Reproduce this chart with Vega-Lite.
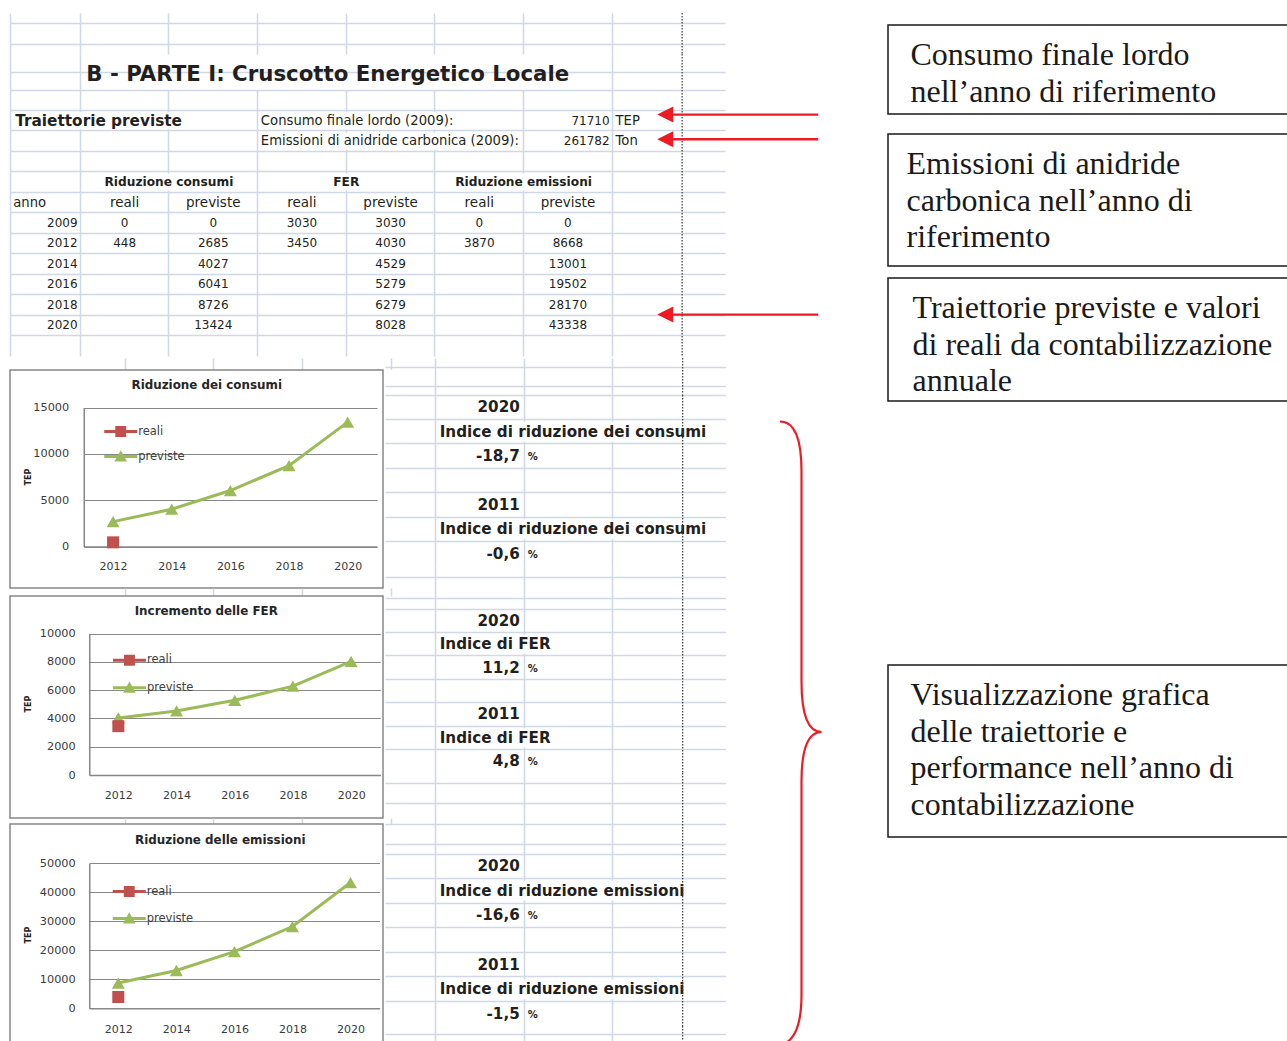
{
  "$schema": "https://vega.github.io/schema/vega-lite/v6.json",
  "padding": {"left": 9, "top": 12, "right": 0, "bottom": 0},
  "background": "white",
  "config": {"view": {"stroke": null}, "font": "DejaVu Sans"},
  "datasets": {
    "celle": [
      {"riga": 3, "colonna": "B", "testo": "B - PARTE I: Cruscotto Energetico Locale", "tipo": "titolo"},
      {"riga": 5, "colonna": "A", "testo": "Traiettorie previste", "tipo": "sezione"},
      {"riga": 5, "colonna": "D", "testo": "Consumo finale lordo (2009):", "tipo": "etichetta"},
      {"riga": 5, "colonna": "G", "testo": "71710", "tipo": "numero_dx"},
      {"riga": 5, "colonna": "H", "testo": "TEP", "tipo": "etichetta"},
      {"riga": 6, "colonna": "D", "testo": "Emissioni di anidride carbonica (2009):", "tipo": "etichetta"},
      {"riga": 6, "colonna": "G", "testo": "261782", "tipo": "numero_dx"},
      {"riga": 6, "colonna": "H", "testo": "Ton", "tipo": "etichetta"},
      {"riga": 8, "colonna": "B", "testo": "Riduzione consumi", "tipo": "gruppo"},
      {"riga": 8, "colonna": "D", "testo": "FER", "tipo": "gruppo"},
      {"riga": 8, "colonna": "F", "testo": "Riduzione emissioni", "tipo": "gruppo"},
      {"riga": 9, "colonna": "A", "testo": "anno", "tipo": "intestazione_anno"},
      {"riga": 9, "colonna": "B", "testo": "reali", "tipo": "sottotitolo"},
      {"riga": 9, "colonna": "C", "testo": "previste", "tipo": "sottotitolo"},
      {"riga": 9, "colonna": "D", "testo": "reali", "tipo": "sottotitolo"},
      {"riga": 9, "colonna": "E", "testo": "previste", "tipo": "sottotitolo"},
      {"riga": 9, "colonna": "F", "testo": "reali", "tipo": "sottotitolo"},
      {"riga": 9, "colonna": "G", "testo": "previste", "tipo": "sottotitolo"},
      {"riga": 10, "colonna": "A", "testo": "2009", "tipo": "anno"},
      {"riga": 10, "colonna": "B", "testo": "0", "tipo": "numero"},
      {"riga": 10, "colonna": "C", "testo": "0", "tipo": "numero"},
      {"riga": 10, "colonna": "D", "testo": "3030", "tipo": "numero"},
      {"riga": 10, "colonna": "E", "testo": "3030", "tipo": "numero"},
      {"riga": 10, "colonna": "F", "testo": "0", "tipo": "numero"},
      {"riga": 10, "colonna": "G", "testo": "0", "tipo": "numero"},
      {"riga": 11, "colonna": "A", "testo": "2012", "tipo": "anno"},
      {"riga": 11, "colonna": "B", "testo": "448", "tipo": "numero"},
      {"riga": 11, "colonna": "C", "testo": "2685", "tipo": "numero"},
      {"riga": 11, "colonna": "D", "testo": "3450", "tipo": "numero"},
      {"riga": 11, "colonna": "E", "testo": "4030", "tipo": "numero"},
      {"riga": 11, "colonna": "F", "testo": "3870", "tipo": "numero"},
      {"riga": 11, "colonna": "G", "testo": "8668", "tipo": "numero"},
      {"riga": 12, "colonna": "A", "testo": "2014", "tipo": "anno"},
      {"riga": 12, "colonna": "C", "testo": "4027", "tipo": "numero"},
      {"riga": 12, "colonna": "E", "testo": "4529", "tipo": "numero"},
      {"riga": 12, "colonna": "G", "testo": "13001", "tipo": "numero"},
      {"riga": 13, "colonna": "A", "testo": "2016", "tipo": "anno"},
      {"riga": 13, "colonna": "C", "testo": "6041", "tipo": "numero"},
      {"riga": 13, "colonna": "E", "testo": "5279", "tipo": "numero"},
      {"riga": 13, "colonna": "G", "testo": "19502", "tipo": "numero"},
      {"riga": 14, "colonna": "A", "testo": "2018", "tipo": "anno"},
      {"riga": 14, "colonna": "C", "testo": "8726", "tipo": "numero"},
      {"riga": 14, "colonna": "E", "testo": "6279", "tipo": "numero"},
      {"riga": 14, "colonna": "G", "testo": "28170", "tipo": "numero"},
      {"riga": 15, "colonna": "A", "testo": "2020", "tipo": "anno"},
      {"riga": 15, "colonna": "C", "testo": "13424", "tipo": "numero"},
      {"riga": 15, "colonna": "E", "testo": "8028", "tipo": "numero"},
      {"riga": 15, "colonna": "G", "testo": "43338", "tipo": "numero"}
    ],
    "coperture": [
      {"riga": 5, "da": "A", "a": "C"},
      {"riga": 5, "da": "D", "a": "F"},
      {"riga": 6, "da": "D", "a": "F"},
      {"riga": 8, "da": "B", "a": "C"},
      {"riga": 8, "da": "D", "a": "E"},
      {"riga": 8, "da": "F", "a": "G"}
    ],
    "grafici": [
      {"grafico": "consumi", "anno": 2012, "serie": "reali", "valore": 448},
      {"grafico": "consumi", "anno": 2012, "serie": "previste", "valore": 2685},
      {"grafico": "consumi", "anno": 2014, "serie": "previste", "valore": 4027},
      {"grafico": "consumi", "anno": 2016, "serie": "previste", "valore": 6041},
      {"grafico": "consumi", "anno": 2018, "serie": "previste", "valore": 8726},
      {"grafico": "consumi", "anno": 2020, "serie": "previste", "valore": 13424},
      {"grafico": "FER", "anno": 2012, "serie": "reali", "valore": 3450},
      {"grafico": "FER", "anno": 2012, "serie": "previste", "valore": 4030},
      {"grafico": "FER", "anno": 2014, "serie": "previste", "valore": 4529},
      {"grafico": "FER", "anno": 2016, "serie": "previste", "valore": 5279},
      {"grafico": "FER", "anno": 2018, "serie": "previste", "valore": 6279},
      {"grafico": "FER", "anno": 2020, "serie": "previste", "valore": 8028},
      {"grafico": "emissioni", "anno": 2012, "serie": "reali", "valore": 3870},
      {"grafico": "emissioni", "anno": 2012, "serie": "previste", "valore": 8668},
      {"grafico": "emissioni", "anno": 2014, "serie": "previste", "valore": 13001},
      {"grafico": "emissioni", "anno": 2016, "serie": "previste", "valore": 19502},
      {"grafico": "emissioni", "anno": 2018, "serie": "previste", "valore": 28170},
      {"grafico": "emissioni", "anno": 2020, "serie": "previste", "valore": 43338}
    ],
    "indici": [
      {"blocco": "consumi", "riga": 1, "colonna": "F", "testo": "2020", "tipo": "anno"},
      {"blocco": "consumi", "riga": 2, "colonna": "F", "fino_a": "H", "testo": "Indice di riduzione dei consumi", "tipo": "indice"},
      {"blocco": "consumi", "riga": 3, "colonna": "F", "testo": "-18,7", "tipo": "valore"},
      {"blocco": "consumi", "riga": 3, "colonna": "G", "testo": "%", "tipo": "unita"},
      {"blocco": "consumi", "riga": 5, "colonna": "F", "testo": "2011", "tipo": "anno"},
      {"blocco": "consumi", "riga": 6, "colonna": "F", "fino_a": "H", "testo": "Indice di riduzione dei consumi", "tipo": "indice"},
      {"blocco": "consumi", "riga": 7, "colonna": "F", "testo": "-0,6", "tipo": "valore"},
      {"blocco": "consumi", "riga": 7, "colonna": "G", "testo": "%", "tipo": "unita"},
      {"blocco": "FER", "riga": 1, "colonna": "F", "testo": "2020", "tipo": "anno"},
      {"blocco": "FER", "riga": 2, "colonna": "F", "fino_a": "G", "testo": "Indice di FER", "tipo": "indice"},
      {"blocco": "FER", "riga": 3, "colonna": "F", "testo": "11,2", "tipo": "valore"},
      {"blocco": "FER", "riga": 3, "colonna": "G", "testo": "%", "tipo": "unita"},
      {"blocco": "FER", "riga": 5, "colonna": "F", "testo": "2011", "tipo": "anno"},
      {"blocco": "FER", "riga": 6, "colonna": "F", "fino_a": "G", "testo": "Indice di FER", "tipo": "indice"},
      {"blocco": "FER", "riga": 7, "colonna": "F", "testo": "4,8", "tipo": "valore"},
      {"blocco": "FER", "riga": 7, "colonna": "G", "testo": "%", "tipo": "unita"},
      {"blocco": "emissioni", "riga": 1, "colonna": "F", "testo": "2020", "tipo": "anno"},
      {"blocco": "emissioni", "riga": 2, "colonna": "F", "fino_a": "H", "testo": "Indice di riduzione emissioni", "tipo": "indice"},
      {"blocco": "emissioni", "riga": 3, "colonna": "F", "testo": "-16,6", "tipo": "valore"},
      {"blocco": "emissioni", "riga": 3, "colonna": "G", "testo": "%", "tipo": "unita"},
      {"blocco": "emissioni", "riga": 5, "colonna": "F", "testo": "2011", "tipo": "anno"},
      {"blocco": "emissioni", "riga": 6, "colonna": "F", "fino_a": "H", "testo": "Indice di riduzione emissioni", "tipo": "indice"},
      {"blocco": "emissioni", "riga": 7, "colonna": "F", "testo": "-1,5", "tipo": "valore"},
      {"blocco": "emissioni", "riga": 7, "colonna": "G", "testo": "%", "tipo": "unita"}
    ],
    "frecce": [
      {"riga": 5, "colonna": "H", "nota": "Consumo finale lordo nell’anno di riferimento"},
      {"riga": 6, "colonna": "H", "nota": "Emissioni di anidride carbonica nell’anno di riferimento"},
      {"riga": 15, "colonna": "H", "nota": "Traiettorie previste e valori di reali da contabilizzazione annuale"}
    ],
    "interruzione": [{"colonna": "H"}],
    "parentesi": [{"oggetto": "grafici e indici"}]
  },
  "spacing": 0,
  "resolve": {"scale": {"color": "independent", "shape": "independent"}, "legend": {"color": "independent", "shape": "independent"}},
  "hconcat": [
    {
      "spacing": 0,
      "resolve": {"scale": {"color": "independent", "shape": "independent"}, "legend": {"color": "independent", "shape": "independent"}},
      "vconcat": [
        {
          "spacing": 0,
          "bounds": "flush",
          "vconcat": [
            {
              "width": 876, "height": 41,
              "layer": [
                {
                  "data": {"name": "celle"},
                  "transform": [{"filter": "false"}],
                  "mark": {"type": "text"},
                  "encoding": {
                    "x": {"field": "colonna", "type": "nominal", "title": null, "scale": {"domain": ["A","B","C","D","E","F","G","H"], "range": [-18.42, 690.94], "paddingInner": 0, "paddingOuter": 0}, "axis": {"orient": "top", "values": ["B","C","D","E","F","G","H"], "bandPosition": 0, "grid": true, "gridColor": "#D0D7E5", "gridWidth": 1.5, "labels": false, "ticks": false, "domain": false, "title": null}},
                    "y": {"field": "riga", "type": "ordinal", "title": null, "scale": {"domain": [1, 2], "paddingInner": 0, "paddingOuter": 0}, "axis": {"orient": "left", "bandPosition": 0, "labels": false, "ticks": true, "tickSize": -715, "tickColor": "#D0D7E5", "tickWidth": 1.5, "domain": true, "domainColor": "#D0D7E5", "domainWidth": 1.5, "grid": false, "title": null}},
                    "text": {"field": "testo"}
                  }
                },
                {"data": {"name": "interruzione"}, "mark": {"type": "rule", "color": "#3A3A3A", "strokeWidth": 1.2, "strokeDash": [1.5, 1.5]}, "encoding": {"x": {"field": "colonna", "type": "nominal", "bandPosition": 0.788}}}
              ]
            },
            {
              "width": 876, "height": 36,
              "layer": [
                {
                  "data": {"name": "celle"},
                  "transform": [{"filter": "datum.tipo === 'titolo'"}],
                  "mark": {"type": "text", "align": "left", "baseline": "middle", "fontSize": 21.3, "fontWeight": "bold", "color": "#231F20", "dy": 3},
                  "encoding": {
                    "x": {"field": "colonna", "type": "nominal", "title": null, "bandPosition": 0.068, "scale": {"domain": ["A","B","C","D","E","F","G","H"], "range": [-18.42, 690.94], "paddingInner": 0, "paddingOuter": 0}, "axis": {"orient": "top", "values": ["B","H"], "bandPosition": 0, "grid": true, "gridColor": "#D0D7E5", "gridWidth": 1.5, "labels": false, "ticks": false, "domain": false, "title": null}},
                    "y": {"field": "riga", "type": "ordinal", "title": null, "scale": {"domain": [3], "paddingInner": 0, "paddingOuter": 0}, "axis": {"orient": "left", "bandPosition": 0, "labels": false, "ticks": true, "tickSize": -715, "tickColor": "#D0D7E5", "tickWidth": 1.5, "domain": true, "domainColor": "#D0D7E5", "domainWidth": 1.5, "grid": false, "title": null}},
                    "text": {"field": "testo"}
                  }
                },
                {"data": {"name": "interruzione"}, "mark": {"type": "rule", "color": "#3A3A3A", "strokeWidth": 1.2, "strokeDash": [1.5, 1.5]}, "encoding": {"x": {"field": "colonna", "type": "nominal", "bandPosition": 0.788}}}
              ]
            },
            {
              "width": 876, "height": 266,
              "layer": [
                {
                  "data": {"name": "coperture"},
                  "mark": {"type": "rule", "color": "white", "strokeWidth": 17},
                  "encoding": {
                    "x": {"field": "da", "type": "nominal", "title": null, "bandPosition": 0.85, "scale": {"domain": ["A","B","C","D","E","F","G","H"], "range": [-18.42, 690.94], "paddingInner": 0, "paddingOuter": 0}, "axis": {"orient": "top", "values": ["B","C","D","E","F","G","H"], "bandPosition": 0, "grid": true, "gridColor": "#D0D7E5", "gridWidth": 1.5, "labels": false, "ticks": false, "domain": false, "title": null}},
                    "x2": {"field": "a", "bandPosition": 0.15},
                    "y": {"field": "riga", "type": "ordinal", "title": null, "scale": {"domain": [4,5,6,7,8,9,10,11,12,13,14,15,16], "paddingInner": 0, "paddingOuter": 0}, "axis": {"orient": "left", "bandPosition": 0, "labels": false, "ticks": true, "tickSize": -715, "tickColor": "#D0D7E5", "tickWidth": 1.5, "domain": true, "domainColor": "#D0D7E5", "domainWidth": 1.5, "grid": false, "title": null}}
                  }
                },
                {
                  "data": {"name": "celle"},
                  "transform": [{"filter": "datum.tipo === 'etichetta'"}],
                  "mark": {"type": "text", "align": "left", "baseline": "middle", "fontSize": 13.2, "color": "#231F20"},
                  "encoding": {"x": {"field": "colonna", "type": "nominal", "bandPosition": 0.037}, "y": {"field": "riga", "type": "ordinal"}, "text": {"field": "testo"}}
                },
                {
                  "data": {"name": "celle"},
                  "transform": [{"filter": "datum.tipo === 'sezione'"}],
                  "mark": {"type": "text", "align": "left", "baseline": "middle", "fontSize": 15.3, "fontWeight": "bold", "color": "#231F20"},
                  "encoding": {"x": {"field": "colonna", "type": "nominal", "bandPosition": 0.267}, "y": {"field": "riga", "type": "ordinal"}, "text": {"field": "testo"}}
                },
                {
                  "data": {"name": "celle"},
                  "transform": [{"filter": "datum.tipo === 'intestazione_anno'"}],
                  "mark": {"type": "text", "align": "left", "baseline": "middle", "fontSize": 13.2, "color": "#231F20"},
                  "encoding": {"x": {"field": "colonna", "type": "nominal", "bandPosition": 0.244}, "y": {"field": "riga", "type": "ordinal"}, "text": {"field": "testo"}}
                },
                {
                  "data": {"name": "celle"},
                  "transform": [{"filter": "datum.tipo === 'anno' || datum.tipo === 'numero_dx'"}],
                  "mark": {"type": "text", "align": "right", "baseline": "middle", "fontSize": 12, "color": "#231F20"},
                  "encoding": {"x": {"field": "colonna", "type": "nominal", "bandPosition": 0.97}, "y": {"field": "riga", "type": "ordinal"}, "text": {"field": "testo"}}
                },
                {
                  "data": {"name": "celle"},
                  "transform": [{"filter": "datum.tipo === 'gruppo'"}],
                  "mark": {"type": "text", "align": "center", "baseline": "middle", "fontSize": 12.2, "fontWeight": "bold", "color": "#231F20"},
                  "encoding": {"x": {"field": "colonna", "type": "nominal", "bandPosition": 1}, "y": {"field": "riga", "type": "ordinal"}, "text": {"field": "testo"}}
                },
                {
                  "data": {"name": "celle"},
                  "transform": [{"filter": "datum.tipo === 'sottotitolo'"}],
                  "mark": {"type": "text", "align": "center", "baseline": "middle", "fontSize": 13.5, "color": "#231F20"},
                  "encoding": {"x": {"field": "colonna", "type": "nominal", "bandPosition": 0.5}, "y": {"field": "riga", "type": "ordinal"}, "text": {"field": "testo"}}
                },
                {
                  "data": {"name": "celle"},
                  "transform": [{"filter": "datum.tipo === 'numero'"}],
                  "mark": {"type": "text", "align": "center", "baseline": "middle", "fontSize": 12, "color": "#231F20"},
                  "encoding": {"x": {"field": "colonna", "type": "nominal", "bandPosition": 0.5}, "y": {"field": "riga", "type": "ordinal"}, "text": {"field": "testo"}}
                },
                {"data": {"name": "interruzione"}, "mark": {"type": "rule", "color": "#3A3A3A", "strokeWidth": 1.2, "strokeDash": [1.5, 1.5]}, "encoding": {"x": {"field": "colonna", "type": "nominal", "bandPosition": 0.788}}},
                {
                  "data": {"name": "frecce"},
                  "transform": [{"filter": "datum.riga === 5"}],
                  "mark": {"type": "point", "shape": "M0.006,-0.061L0.166,-0.141L0.166,-0.073L1.616,-0.073L1.616,-0.049L0.166,-0.049L0.166,0.019Z", "size": 40000, "filled": true, "color": "#ED1C24", "opacity": 1, "strokeWidth": 0},
                  "encoding": {"x": {"field": "colonna", "type": "nominal", "bandPosition": 0.5}, "y": {"field": "riga", "type": "ordinal"}}
                },
                {
                  "data": {"name": "frecce"},
                  "transform": [{"filter": "datum.riga === 6"}],
                  "mark": {"type": "point", "shape": "M0.006,-0.019L0.166,-0.099L0.166,-0.031L1.616,-0.031L1.616,-0.007L0.166,-0.007L0.166,0.061Z", "size": 40000, "filled": true, "color": "#ED1C24", "opacity": 1, "strokeWidth": 0},
                  "encoding": {"x": {"field": "colonna", "type": "nominal", "bandPosition": 0.5}, "y": {"field": "riga", "type": "ordinal"}}
                },
                {
                  "data": {"name": "frecce"},
                  "transform": [{"filter": "datum.riga === 15"}],
                  "mark": {"type": "point", "shape": "M0.006,-0.107L0.166,-0.187L0.166,-0.119L1.616,-0.119L1.616,-0.095L0.166,-0.095L0.166,-0.027Z", "size": 40000, "filled": true, "color": "#ED1C24", "opacity": 1, "strokeWidth": 0},
                  "encoding": {"x": {"field": "colonna", "type": "nominal", "bandPosition": 0.5}, "y": {"field": "riga", "type": "ordinal"}}
                }
              ]
            }
          ]
        },
        {
          "spacing": 0,
          "resolve": {"scale": {"color": "independent", "shape": "independent"}, "legend": {"color": "independent", "shape": "independent"}},
          "hconcat": [
            {
              "spacing": 0,
              "bounds": "flush",
              "resolve": {"scale": {"color": "independent", "shape": "independent"}, "legend": {"color": "independent", "shape": "independent"}},
              "vconcat": [
                {
                  "width": 373, "height": 11.25,
                  "layer": [{"data": {"name": "celle"}, "transform": [{"filter": "false"}], "mark": {"type": "text"}, "encoding": {"x": {"field": "colonna", "type": "nominal", "title": null, "scale": {"domain": ["B","C","D","E"], "range": [70.25, 424.93], "paddingInner": 0, "paddingOuter": 0}, "axis": {"orient": "top", "values": ["B","C","D","E"], "bandPosition": 0, "grid": true, "gridColor": "#D0D7E5", "gridWidth": 1.5, "labels": false, "ticks": false, "domain": false, "title": null}}, "text": {"field": "testo"}}}]
                },
                {
                  "width": 373, "height": 218,
                  "view": {"fill": "white", "stroke": "#878787", "strokeWidth": 1.5},
                  "title": {"text": "Riduzione dei consumi", "anchor": "middle", "frame": "group", "offset": -21.8, "dx": 10.25, "fontSize": 11.9, "fontWeight": "bold", "color": "#262626"},
                  "data": {"name": "grafici"},
                  "transform": [{"filter": "datum.grafico === 'consumi'"}],
                  "layer": [
                    {
                      "transform": [{"filter": "datum.serie === 'previste'"}],
                      "mark": {"type": "line", "color": "#9BBB59", "strokeWidth": 3},
                      "encoding": {
                        "x": {"field": "anno", "type": "ordinal", "title": null, "scale": {"domain": [2012, 2014, 2016, 2018, 2020], "range": [73.75, 367], "paddingInner": 0, "paddingOuter": 0}, "axis": {"orient": "bottom", "offset": -41.5, "domain": true, "domainColor": "#878787", "domainWidth": 1.5, "ticks": false, "grid": false, "labelPadding": 14, "labelAngle": 0, "labelFontSize": 11, "labelColor": "#3B3B3B", "title": null}},
                        "y": {"field": "valore", "type": "quantitative", "title": "TEP", "scale": {"domain": [0, 15000], "range": [176.5, 37.5], "nice": false}, "axis": {"orient": "left", "offset": -73.75, "values": [0, 5000, 10000, 15000], "format": "d", "grid": true, "gridColor": "#878787", "gridWidth": 1.2, "domain": true, "domainColor": "#878787", "domainWidth": 1.5, "ticks": false, "labelPadding": 15, "labelFontSize": 11.3, "labelColor": "#3B3B3B", "titleFontSize": 8, "titleFontWeight": "bold", "titleColor": "#222222", "titleAngle": -90, "titleX": -55, "titleY": 106.5, "titleAlign": "center", "titleBaseline": "middle"}}
                      }
                    },
                    {
                      "transform": [{"filter": "datum.serie === 'previste'"}],
                      "mark": {"type": "point", "shape": "triangle-up", "filled": true, "color": "#9BBB59", "size": 169, "opacity": 1},
                      "encoding": {"x": {"field": "anno", "type": "ordinal"}, "y": {"field": "valore", "type": "quantitative"}}
                    },
                    {
                      "transform": [{"filter": "datum.serie === 'reali'"}],
                      "mark": {"type": "point", "shape": "square", "filled": true, "color": "#C0504D", "size": 144, "opacity": 1},
                      "encoding": {"x": {"field": "anno", "type": "ordinal"}, "y": {"field": "valore", "type": "quantitative"}}
                    },
                    {
                      "transform": [{"filter": "false"}],
                      "mark": {"type": "point", "filled": true, "opacity": 1},
                      "encoding": {
                        "color": {"field": "serie", "type": "nominal", "scale": {"domain": ["reali", "previste"], "range": ["#C0504D", "#9BBB59"]}, "legend": {"orient": "none", "legendX": 94.25, "legendY": 45, "title": null, "direction": "vertical", "symbolSize": 1089, "labelFontSize": 11.5, "labelColor": "#404040", "labelOffset": 1, "rowPadding": 3, "padding": 0, "symbolStrokeWidth": 0}},
                        "shape": {"field": "serie", "type": "nominal", "scale": {"domain": ["reali", "previste"], "range": ["M-1,-0.09H1V0.09H-1ZM-0.33,-0.33H0.33V0.33H-0.33Z", "M-1,-0.09H1V0.09H-1ZM0,-0.38L0.38,0.3H-0.38Z"]}, "legend": {"orient": "none", "legendX": 94.25, "legendY": 45, "title": null, "direction": "vertical", "symbolSize": 1089, "labelFontSize": 11.5, "labelColor": "#404040", "labelOffset": 1, "rowPadding": 3, "padding": 0, "symbolStrokeWidth": 0}}
                      }
                    }
                  ]
                },
                {
                  "width": 373, "height": 8,
                  "layer": [{"data": {"name": "celle"}, "transform": [{"filter": "false"}], "mark": {"type": "text"}, "encoding": {"x": {"field": "colonna", "type": "nominal", "title": null, "scale": {"domain": ["B","C","D","E"], "range": [70.25, 424.93], "paddingInner": 0, "paddingOuter": 0}, "axis": {"orient": "top", "values": ["B","C","D","E"], "bandPosition": 0, "grid": true, "gridColor": "#D0D7E5", "gridWidth": 1.5, "labels": false, "ticks": false, "domain": false, "title": null}}, "text": {"field": "testo"}}}]
                },
                {
                  "width": 373, "height": 222,
                  "view": {"fill": "white", "stroke": "#878787", "strokeWidth": 1.5},
                  "title": {"text": "Incremento delle FER", "anchor": "middle", "frame": "group", "offset": -21.8, "dx": 9.75, "fontSize": 11.9, "fontWeight": "bold", "color": "#262626"},
                  "data": {"name": "grafici"},
                  "transform": [{"filter": "datum.grafico === 'FER'"}],
                  "layer": [
                    {
                      "transform": [{"filter": "datum.serie === 'previste'"}],
                      "mark": {"type": "line", "color": "#9BBB59", "strokeWidth": 3},
                      "encoding": {
                        "x": {"field": "anno", "type": "ordinal", "title": null, "scale": {"domain": [2012, 2014, 2016, 2018, 2020], "range": [79.25, 370.25], "paddingInner": 0, "paddingOuter": 0}, "axis": {"orient": "bottom", "offset": -43, "domain": true, "domainColor": "#878787", "domainWidth": 1.5, "ticks": false, "grid": false, "labelPadding": 14.5, "labelAngle": 0, "labelFontSize": 11, "labelColor": "#3B3B3B", "title": null}},
                        "y": {"field": "valore", "type": "quantitative", "title": "TEP", "scale": {"domain": [0, 10000], "range": [179, 37.5], "nice": false}, "axis": {"orient": "left", "offset": -79.25, "values": [0, 2000, 4000, 6000, 8000, 10000], "format": "d", "grid": true, "gridColor": "#878787", "gridWidth": 1.2, "domain": true, "domainColor": "#878787", "domainWidth": 1.5, "ticks": false, "labelPadding": 14, "labelFontSize": 11.3, "labelColor": "#3B3B3B", "titleFontSize": 8, "titleFontWeight": "bold", "titleColor": "#222222", "titleAngle": -90, "titleX": -60.75, "titleY": 107.5, "titleAlign": "center", "titleBaseline": "middle"}}
                      }
                    },
                    {
                      "transform": [{"filter": "datum.serie === 'previste'"}],
                      "mark": {"type": "point", "shape": "triangle-up", "filled": true, "color": "#9BBB59", "size": 169, "opacity": 1},
                      "encoding": {"x": {"field": "anno", "type": "ordinal"}, "y": {"field": "valore", "type": "quantitative"}}
                    },
                    {
                      "transform": [{"filter": "datum.serie === 'reali'"}],
                      "mark": {"type": "point", "shape": "square", "filled": true, "color": "#C0504D", "size": 144, "opacity": 1},
                      "encoding": {"x": {"field": "anno", "type": "ordinal"}, "y": {"field": "valore", "type": "quantitative"}}
                    },
                    {
                      "transform": [{"filter": "false"}],
                      "mark": {"type": "point", "filled": true, "opacity": 1},
                      "encoding": {
                        "color": {"field": "serie", "type": "nominal", "scale": {"domain": ["reali", "previste"], "range": ["#C0504D", "#9BBB59"]}, "legend": {"orient": "none", "legendX": 102.95, "legendY": 47.7, "title": null, "direction": "vertical", "symbolSize": 1089, "labelFontSize": 11.5, "labelColor": "#404040", "labelOffset": 1, "rowPadding": 5.5, "padding": 0, "symbolStrokeWidth": 0}},
                        "shape": {"field": "serie", "type": "nominal", "scale": {"domain": ["reali", "previste"], "range": ["M-1,-0.09H1V0.09H-1ZM-0.33,-0.33H0.33V0.33H-0.33Z", "M-1,-0.09H1V0.09H-1ZM0,-0.38L0.38,0.3H-0.38Z"]}, "legend": {"orient": "none", "legendX": 102.95, "legendY": 47.7, "title": null, "direction": "vertical", "symbolSize": 1089, "labelFontSize": 11.5, "labelColor": "#404040", "labelOffset": 1, "rowPadding": 5.5, "padding": 0, "symbolStrokeWidth": 0}}
                      }
                    }
                  ]
                },
                {
                  "width": 373, "height": 6,
                  "layer": [{"data": {"name": "celle"}, "transform": [{"filter": "false"}], "mark": {"type": "text"}, "encoding": {"x": {"field": "colonna", "type": "nominal", "title": null, "scale": {"domain": ["B","C","D","E"], "range": [70.25, 424.93], "paddingInner": 0, "paddingOuter": 0}, "axis": {"orient": "top", "values": ["B","C","D","E"], "bandPosition": 0, "grid": true, "gridColor": "#D0D7E5", "gridWidth": 1.5, "labels": false, "ticks": false, "domain": false, "title": null}}, "text": {"field": "testo"}}}]
                },
                {
                  "width": 373, "height": 218.5,
                  "view": {"fill": "white", "stroke": "#878787", "strokeWidth": 1.5},
                  "title": {"text": "Riduzione delle emissioni", "anchor": "middle", "frame": "group", "offset": -22.8, "dx": 23.75, "fontSize": 11.9, "fontWeight": "bold", "color": "#262626"},
                  "data": {"name": "grafici"},
                  "transform": [{"filter": "datum.grafico === 'emissioni'"}],
                  "layer": [
                    {
                      "transform": [{"filter": "datum.serie === 'previste'"}],
                      "mark": {"type": "line", "color": "#9BBB59", "strokeWidth": 3},
                      "encoding": {
                        "x": {"field": "anno", "type": "ordinal", "title": null, "scale": {"domain": [2012, 2014, 2016, 2018, 2020], "range": [79.25, 369.55], "paddingInner": 0, "paddingOuter": 0}, "axis": {"orient": "bottom", "offset": -34.3, "domain": true, "domainColor": "#878787", "domainWidth": 1.5, "ticks": false, "grid": false, "labelPadding": 15.5, "labelAngle": 0, "labelFontSize": 11, "labelColor": "#3B3B3B", "title": null}},
                        "y": {"field": "valore", "type": "quantitative", "title": "TEP", "scale": {"domain": [0, 50000], "range": [184.2, 39.2], "nice": false}, "axis": {"orient": "left", "offset": -79.25, "values": [0, 10000, 20000, 30000, 40000, 50000], "format": "d", "grid": true, "gridColor": "#878787", "gridWidth": 1.2, "domain": true, "domainColor": "#878787", "domainWidth": 1.5, "ticks": false, "labelPadding": 14, "labelFontSize": 11.3, "labelColor": "#3B3B3B", "titleFontSize": 8, "titleFontWeight": "bold", "titleColor": "#222222", "titleAngle": -90, "titleX": -60.75, "titleY": 110.5, "titleAlign": "center", "titleBaseline": "middle"}}
                      }
                    },
                    {
                      "transform": [{"filter": "datum.serie === 'previste'"}],
                      "mark": {"type": "point", "shape": "triangle-up", "filled": true, "color": "#9BBB59", "size": 169, "opacity": 1},
                      "encoding": {"x": {"field": "anno", "type": "ordinal"}, "y": {"field": "valore", "type": "quantitative"}}
                    },
                    {
                      "transform": [{"filter": "datum.serie === 'reali'"}],
                      "mark": {"type": "point", "shape": "square", "filled": true, "color": "#C0504D", "size": 144, "opacity": 1},
                      "encoding": {"x": {"field": "anno", "type": "ordinal"}, "y": {"field": "valore", "type": "quantitative"}}
                    },
                    {
                      "transform": [{"filter": "false"}],
                      "mark": {"type": "point", "filled": true, "opacity": 1},
                      "encoding": {
                        "color": {"field": "serie", "type": "nominal", "scale": {"domain": ["reali", "previste"], "range": ["#C0504D", "#9BBB59"]}, "legend": {"orient": "none", "legendX": 102.75, "legendY": 51, "title": null, "direction": "vertical", "symbolSize": 1089, "labelFontSize": 11.5, "labelColor": "#404040", "labelOffset": 1, "rowPadding": 5, "padding": 0, "symbolStrokeWidth": 0}},
                        "shape": {"field": "serie", "type": "nominal", "scale": {"domain": ["reali", "previste"], "range": ["M-1,-0.09H1V0.09H-1ZM-0.33,-0.33H0.33V0.33H-0.33Z", "M-1,-0.09H1V0.09H-1ZM0,-0.38L0.38,0.3H-0.38Z"]}, "legend": {"orient": "none", "legendX": 102.75, "legendY": 51, "title": null, "direction": "vertical", "symbolSize": 1089, "labelFontSize": 11.5, "labelColor": "#404040", "labelOffset": 1, "rowPadding": 5, "padding": 0, "symbolStrokeWidth": 0}}
                      }
                    }
                  ]
                }
              ]
            },
            {
              "spacing": 0,
              "bounds": "flush",
              "vconcat": [
                {
                  "width": 340.5, "height": 36.75,
                  "layer": [
                    {"data": {"name": "indici"}, "transform": [{"filter": "false"}], "mark": {"type": "text"}, "encoding": {
                      "x": {"field": "colonna", "type": "nominal", "title": null, "scale": {"domain": ["F","G","H"], "range": [50.45, 316.46], "paddingInner": 0, "paddingOuter": 0}, "axis": {"orient": "top", "values": ["F","G","H"], "bandPosition": 0, "grid": true, "gridColor": "#D0D7E5", "gridWidth": 1.5, "labels": false, "ticks": false, "domain": false, "title": null}},
                      "y": {"field": "riga", "type": "ordinal", "title": null, "scale": {"domain": [1, 2], "paddingInner": 0, "paddingOuter": 0}, "axis": {"orient": "left", "bandPosition": 0, "labels": false, "ticks": true, "tickSize": -340.5, "tickColor": "#D0D7E5", "tickWidth": 1.5, "domain": false, "grid": false, "title": null}},
                      "text": {"field": "testo"}}},
                    {"data": {"name": "interruzione"}, "mark": {"type": "rule", "color": "#3A3A3A", "strokeWidth": 1.2, "strokeDash": [1.5, 1.5]}, "encoding": {"x": {"field": "colonna", "type": "nominal", "bandPosition": 0.788}}}
                  ]
                },
                {
                  "width": 340.5, "height": 171,
                  "layer": [
                    {"data": {"name": "indici"}, "transform": [{"filter": "datum.blocco === 'consumi' && (datum.tipo === 'anno' || datum.tipo === 'valore')"}], "mark": {"type": "text", "align": "right", "baseline": "middle", "fontSize": 15.2, "fontWeight": "bold", "color": "#231F20"}, "encoding": {
                      "x": {"field": "colonna", "type": "nominal", "title": null, "bandPosition": 0.951, "scale": {"domain": ["F","G","H"], "range": [50.45, 316.46], "paddingInner": 0, "paddingOuter": 0}, "axis": {"orient": "top", "values": ["F","G","H"], "bandPosition": 0, "grid": true, "gridColor": "#D0D7E5", "gridWidth": 1.5, "labels": false, "ticks": false, "domain": false, "title": null}},
                      "y": {"field": "riga", "type": "ordinal", "title": null, "scale": {"domain": [1,2,3,4,5,6,7], "paddingInner": 0, "paddingOuter": 0}, "axis": {"orient": "left", "bandPosition": 0, "labels": false, "ticks": true, "tickSize": -340.5, "tickColor": "#D0D7E5", "tickWidth": 1.5, "domain": false, "grid": false, "title": null}},
                      "text": {"field": "testo"}}},
                    {"data": {"name": "indici"}, "transform": [{"filter": "datum.blocco === 'consumi' && datum.tipo === 'indice'"}], "mark": {"type": "rule", "color": "white", "strokeWidth": 20}, "encoding": {"x": {"field": "colonna", "type": "nominal", "bandPosition": 0.85}, "x2": {"field": "fino_a", "bandPosition": 0.15}, "y": {"field": "riga", "type": "ordinal"}}},
                    {"data": {"name": "indici"}, "transform": [{"filter": "datum.blocco === 'consumi' && datum.tipo === 'indice'"}], "mark": {"type": "text", "align": "left", "baseline": "middle", "fontSize": 15.2, "fontWeight": "bold", "color": "#231F20"}, "encoding": {"x": {"field": "colonna", "type": "nominal", "bandPosition": 0.048}, "y": {"field": "riga", "type": "ordinal"}, "text": {"field": "testo"}}},
                    {"data": {"name": "indici"}, "transform": [{"filter": "datum.blocco === 'consumi' && datum.tipo === 'unita'"}], "mark": {"type": "text", "align": "left", "baseline": "middle", "fontSize": 10, "fontWeight": "bold", "color": "#231F20", "dy": 1}, "encoding": {"x": {"field": "colonna", "type": "nominal", "bandPosition": 0.041}, "y": {"field": "riga", "type": "ordinal"}, "text": {"field": "testo"}}},
                    {"data": {"name": "interruzione"}, "mark": {"type": "rule", "color": "#3A3A3A", "strokeWidth": 1.2, "strokeDash": [1.5, 1.5]}, "encoding": {"x": {"field": "colonna", "type": "nominal", "bandPosition": 0.788}}}
                  ]
                },
                {
                  "width": 340.5, "height": 43,
                  "layer": [
                    {"data": {"name": "indici"}, "transform": [{"filter": "false"}], "mark": {"type": "text"}, "encoding": {
                      "x": {"field": "colonna", "type": "nominal", "title": null, "scale": {"domain": ["F","G","H"], "range": [50.45, 316.46], "paddingInner": 0, "paddingOuter": 0}, "axis": {"orient": "top", "values": ["F","G","H"], "bandPosition": 0, "grid": true, "gridColor": "#D0D7E5", "gridWidth": 1.5, "labels": false, "ticks": false, "domain": false, "title": null}},
                      "y": {"field": "riga", "type": "ordinal", "title": null, "scale": {"domain": [1, 2], "paddingInner": 0, "paddingOuter": 0}, "axis": {"orient": "left", "bandPosition": 0, "labels": false, "ticks": true, "tickSize": -340.5, "tickColor": "#D0D7E5", "tickWidth": 1.5, "domain": false, "grid": false, "title": null}},
                      "text": {"field": "testo"}}},
                    {"data": {"name": "interruzione"}, "mark": {"type": "rule", "color": "#3A3A3A", "strokeWidth": 1.2, "strokeDash": [1.5, 1.5]}, "encoding": {"x": {"field": "colonna", "type": "nominal", "bandPosition": 0.788}}}
                  ]
                },
                {
                  "width": 340.5, "height": 164,
                  "layer": [
                    {"data": {"name": "indici"}, "transform": [{"filter": "datum.blocco === 'FER' && (datum.tipo === 'anno' || datum.tipo === 'valore')"}], "mark": {"type": "text", "align": "right", "baseline": "middle", "fontSize": 15.2, "fontWeight": "bold", "color": "#231F20"}, "encoding": {
                      "x": {"field": "colonna", "type": "nominal", "title": null, "bandPosition": 0.951, "scale": {"domain": ["F","G","H"], "range": [50.45, 316.46], "paddingInner": 0, "paddingOuter": 0}, "axis": {"orient": "top", "values": ["F","G","H"], "bandPosition": 0, "grid": true, "gridColor": "#D0D7E5", "gridWidth": 1.5, "labels": false, "ticks": false, "domain": false, "title": null}},
                      "y": {"field": "riga", "type": "ordinal", "title": null, "scale": {"domain": [1,2,3,4,5,6,7], "paddingInner": 0, "paddingOuter": 0}, "axis": {"orient": "left", "bandPosition": 0, "labels": false, "ticks": true, "tickSize": -340.5, "tickColor": "#D0D7E5", "tickWidth": 1.5, "domain": false, "grid": false, "title": null}},
                      "text": {"field": "testo"}}},
                    {"data": {"name": "indici"}, "transform": [{"filter": "datum.blocco === 'FER' && datum.tipo === 'indice'"}], "mark": {"type": "rule", "color": "white", "strokeWidth": 19}, "encoding": {"x": {"field": "colonna", "type": "nominal", "bandPosition": 0.85}, "x2": {"field": "fino_a", "bandPosition": 0.15}, "y": {"field": "riga", "type": "ordinal"}}},
                    {"data": {"name": "indici"}, "transform": [{"filter": "datum.blocco === 'FER' && datum.tipo === 'indice'"}], "mark": {"type": "text", "align": "left", "baseline": "middle", "fontSize": 15.2, "fontWeight": "bold", "color": "#231F20"}, "encoding": {"x": {"field": "colonna", "type": "nominal", "bandPosition": 0.048}, "y": {"field": "riga", "type": "ordinal"}, "text": {"field": "testo"}}},
                    {"data": {"name": "indici"}, "transform": [{"filter": "datum.blocco === 'FER' && datum.tipo === 'unita'"}], "mark": {"type": "text", "align": "left", "baseline": "middle", "fontSize": 10, "fontWeight": "bold", "color": "#231F20", "dy": 1}, "encoding": {"x": {"field": "colonna", "type": "nominal", "bandPosition": 0.041}, "y": {"field": "riga", "type": "ordinal"}, "text": {"field": "testo"}}},
                    {"data": {"name": "interruzione"}, "mark": {"type": "rule", "color": "#3A3A3A", "strokeWidth": 1.2, "strokeDash": [1.5, 1.5]}, "encoding": {"x": {"field": "colonna", "type": "nominal", "bandPosition": 0.788}}}
                  ]
                },
                {
                  "width": 340.5, "height": 81,
                  "layer": [
                    {"data": {"name": "indici"}, "transform": [{"filter": "false"}], "mark": {"type": "text"}, "encoding": {
                      "x": {"field": "colonna", "type": "nominal", "title": null, "scale": {"domain": ["F","G","H"], "range": [50.45, 316.46], "paddingInner": 0, "paddingOuter": 0}, "axis": {"orient": "top", "values": ["F","G","H"], "bandPosition": 0, "grid": true, "gridColor": "#D0D7E5", "gridWidth": 1.5, "labels": false, "ticks": false, "domain": false, "title": null}},
                      "y": {"field": "riga", "type": "ordinal", "title": null, "scale": {"domain": [1, 2, 3, 4], "paddingInner": 0, "paddingOuter": 0}, "axis": {"orient": "left", "bandPosition": 0, "labels": false, "ticks": true, "tickSize": -340.5, "tickColor": "#D0D7E5", "tickWidth": 1.5, "domain": false, "grid": false, "title": null}},
                      "text": {"field": "testo"}}},
                    {"data": {"name": "interruzione"}, "mark": {"type": "rule", "color": "#3A3A3A", "strokeWidth": 1.2, "strokeDash": [1.5, 1.5]}, "encoding": {"x": {"field": "colonna", "type": "nominal", "bandPosition": 0.788}}}
                  ]
                },
                {
                  "width": 340.5, "height": 172,
                  "layer": [
                    {"data": {"name": "indici"}, "transform": [{"filter": "datum.blocco === 'emissioni' && (datum.tipo === 'anno' || datum.tipo === 'valore')"}], "mark": {"type": "text", "align": "right", "baseline": "middle", "fontSize": 15.2, "fontWeight": "bold", "color": "#231F20"}, "encoding": {
                      "x": {"field": "colonna", "type": "nominal", "title": null, "bandPosition": 0.951, "scale": {"domain": ["F","G","H"], "range": [50.45, 316.46], "paddingInner": 0, "paddingOuter": 0}, "axis": {"orient": "top", "values": ["F","G","H"], "bandPosition": 0, "grid": true, "gridColor": "#D0D7E5", "gridWidth": 1.5, "labels": false, "ticks": false, "domain": false, "title": null}},
                      "y": {"field": "riga", "type": "ordinal", "title": null, "scale": {"domain": [1,2,3,4,5,6,7], "paddingInner": 0, "paddingOuter": 0}, "axis": {"orient": "left", "bandPosition": 0, "labels": false, "ticks": true, "tickSize": -340.5, "tickColor": "#D0D7E5", "tickWidth": 1.5, "domain": false, "grid": false, "title": null}},
                      "text": {"field": "testo"}}},
                    {"data": {"name": "indici"}, "transform": [{"filter": "datum.blocco === 'emissioni' && datum.tipo === 'indice'"}], "mark": {"type": "rule", "color": "white", "strokeWidth": 20}, "encoding": {"x": {"field": "colonna", "type": "nominal", "bandPosition": 0.85}, "x2": {"field": "fino_a", "bandPosition": 0.15}, "y": {"field": "riga", "type": "ordinal"}}},
                    {"data": {"name": "indici"}, "transform": [{"filter": "datum.blocco === 'emissioni' && datum.tipo === 'indice'"}], "mark": {"type": "text", "align": "left", "baseline": "middle", "fontSize": 15.2, "fontWeight": "bold", "color": "#231F20"}, "encoding": {"x": {"field": "colonna", "type": "nominal", "bandPosition": 0.048}, "y": {"field": "riga", "type": "ordinal"}, "text": {"field": "testo"}}},
                    {"data": {"name": "indici"}, "transform": [{"filter": "datum.blocco === 'emissioni' && datum.tipo === 'unita'"}], "mark": {"type": "text", "align": "left", "baseline": "middle", "fontSize": 10, "fontWeight": "bold", "color": "#231F20", "dy": 1}, "encoding": {"x": {"field": "colonna", "type": "nominal", "bandPosition": 0.041}, "y": {"field": "riga", "type": "ordinal"}, "text": {"field": "testo"}}},
                    {"data": {"name": "interruzione"}, "mark": {"type": "rule", "color": "#3A3A3A", "strokeWidth": 1.2, "strokeDash": [1.5, 1.5]}, "encoding": {"x": {"field": "colonna", "type": "nominal", "bandPosition": 0.788}}}
                  ]
                },
                {
                  "width": 340.5, "height": 16,
                  "layer": [
                    {"data": {"name": "indici"}, "transform": [{"filter": "false"}], "mark": {"type": "text"}, "encoding": {
                      "x": {"field": "colonna", "type": "nominal", "title": null, "scale": {"domain": ["F","G","H"], "range": [50.45, 316.46], "paddingInner": 0, "paddingOuter": 0}, "axis": {"orient": "top", "values": ["F","G","H"], "bandPosition": 0, "grid": true, "gridColor": "#D0D7E5", "gridWidth": 1.5, "labels": false, "ticks": false, "domain": false, "title": null}},
                      "y": {"field": "riga", "type": "ordinal", "title": null, "scale": {"domain": [1], "paddingInner": 0, "paddingOuter": 0}, "axis": {"orient": "left", "bandPosition": 0, "labels": false, "ticks": true, "tickSize": -340.5, "tickColor": "#D0D7E5", "tickWidth": 1.5, "domain": false, "grid": false, "title": null}},
                      "text": {"field": "testo"}}},
                    {"data": {"name": "interruzione"}, "mark": {"type": "rule", "color": "#3A3A3A", "strokeWidth": 1.2, "strokeDash": [1.5, 1.5]}, "encoding": {"x": {"field": "colonna", "type": "nominal", "bandPosition": 0.788}}}
                  ]
                }
              ]
            },
            {
              "width": 159.5, "height": 684.5,
              "data": {"name": "parentesi"},
              "mark": {"type": "point", "shape": "M-0.0862,-0.8977Q-0.0169,-0.8977,-0.0169,-0.7367L-0.0169,-0.0603Q-0.0169,0.1023,0.0475,0.1023Q-0.0169,0.1023,-0.0169,0.2617L-0.0169,0.9477Q-0.0169,1.0723,-0.0652,1.1023", "size": 385641, "filled": false, "stroke": "#ED1C24", "strokeWidth": 2.2, "opacity": 1}
            }
          ]
        }
      ]
    },
    {
      "spacing": 0,
      "bounds": "flush",
      "vconcat": [
        {"width": 420, "height": 12, "data": {"values": []}, "mark": "text"},
        {"width": 420, "height": 89, "view": {"stroke": "#1A1A1A", "strokeWidth": 1.5},
         "title": {"text": ["Consumo finale lordo", "nell’anno di riferimento"], "anchor": "start", "frame": "group", "offset": -83.6, "dx": 22.5, "font": "Liberation Serif", "fontSize": 32, "fontWeight": "normal", "lineHeight": 36.6, "color": "#1A1A1A"},
         "data": {"values": []}, "mark": "text"},
        {"width": 420, "height": 20, "data": {"values": []}, "mark": "text"},
        {"width": 420, "height": 132, "view": {"stroke": "#1A1A1A", "strokeWidth": 1.5},
         "title": {"text": ["Emissioni di anidride", "carbonica nell’anno di", "riferimento"], "anchor": "start", "frame": "group", "offset": -120.2, "dx": 18.5, "font": "Liberation Serif", "fontSize": 32, "fontWeight": "normal", "lineHeight": 36.6, "color": "#1A1A1A"},
         "data": {"values": []}, "mark": "text"},
        {"width": 420, "height": 12, "data": {"values": []}, "mark": "text"},
        {"width": 420, "height": 123, "view": {"stroke": "#1A1A1A", "strokeWidth": 1.5},
         "title": {"text": ["Traiettorie previste e valori", "di reali da contabilizzazione", "annuale"], "anchor": "start", "frame": "group", "offset": -120.2, "dx": 24.5, "font": "Liberation Serif", "fontSize": 32, "fontWeight": "normal", "lineHeight": 36.6, "color": "#1A1A1A"},
         "data": {"values": []}, "mark": "text"},
        {"width": 420, "height": 264, "data": {"values": []}, "mark": "text"},
        {"width": 420, "height": 172, "view": {"stroke": "#1A1A1A", "strokeWidth": 1.5},
         "title": {"text": ["Visualizzazione grafica", "delle traiettorie e", "performance nell’anno di", "contabilizzazione"], "anchor": "start", "frame": "group", "offset": -156.8, "dx": 22.5, "font": "Liberation Serif", "fontSize": 32, "fontWeight": "normal", "lineHeight": 36.6, "color": "#1A1A1A"},
         "data": {"values": []}, "mark": "text"}
      ]
    }
  ]
}
